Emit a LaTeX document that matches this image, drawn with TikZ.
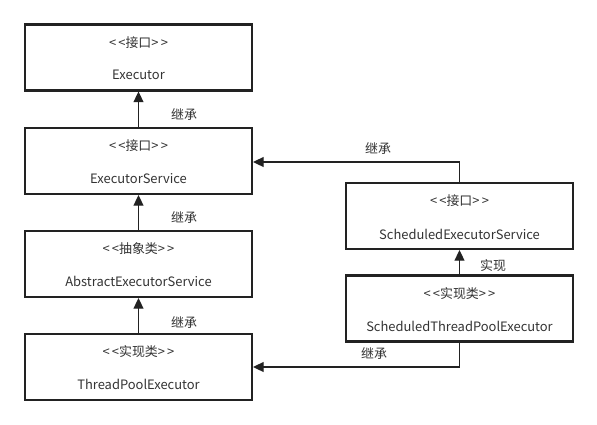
\documentclass[tikz,border=0pt]{standalone}
\usepackage{fontspec}
\setmainfont{Noto Sans CJK SC}
\usetikzlibrary{arrows.meta}
\definecolor{txt}{HTML}{333333}
\definecolor{ln}{HTML}{222222}
\newcommand{\stereo}[1]{{<}\,{<}#1{>}\,{>}}
\begin{document}
\begin{tikzpicture}[x=0.75pt,y=-0.75pt,
  cls/.style={draw=ln,line width=1.6pt,minimum width=227*0.75pt,minimum height=66*0.75pt,inner sep=0pt},
  txtst/.style={text=txt,font=\fontsize{9.7}{11}\selectfont,inner sep=0pt},
  conn/.style={draw=ln,line width=1.1pt,-{Triangle[length=8pt,width=7.5pt]}}]
\useasboundingbox (0,0) rectangle (597,425);
% boxes
\node[cls] (ex) at (138.5,57.5) {};
\node[cls] (es) at (138.5,161) {};
\node[cls] (aes) at (138.5,264) {};
\node[cls] (tpe) at (138.5,367) {};
\node[cls] (ses) at (459.5,216) {};
\node[cls] (stpe) at (459.5,308.5) {};
% texts
\node[txtst] at (138.5,43) {\stereo{接口}};
\node[txtst] at (138.5,75) {Executor};
\node[txtst] at (138.5,146) {\stereo{接口}};
\node[txtst] at (138.5,178.5) {ExecutorService};
\node[txtst] at (138.5,249) {\stereo{抽象类}};
\node[txtst] at (138.5,281.5) {AbstractExecutorService};
\node[txtst] at (138.5,352) {\stereo{实现类}};
\node[txtst] at (138.5,384.5) {ThreadPoolExecutor};
\node[txtst] at (459.5,201) {\stereo{接口}};
\node[txtst] at (459.5,234) {ScheduledExecutorService};
\node[txtst] at (459.5,294) {\stereo{实现类}};
\node[txtst] at (459.5,326) {ScheduledThreadPoolExecutor};
% connectors
\draw[conn] (es.north) -- (ex.south);
\draw[conn] (aes.north) -- (es.south);
\draw[conn] (tpe.north) -- (aes.south);
\draw[conn] (stpe.north) -- (ses.south);
\draw[conn] (ses.north) |- (es.east |- 0,162);
\draw[conn] (stpe.south) |- (tpe.east |- 0,367);
% labels
\node[txtst] at (184,115) {继承};
\node[txtst] at (184,218) {继承};
\node[txtst] at (184,323) {继承};
\node[txtst] at (493,266) {实现};
\node[txtst] at (378,149) {继承};
\node[txtst] at (374,354) {继承};
\end{tikzpicture}
\end{document}
